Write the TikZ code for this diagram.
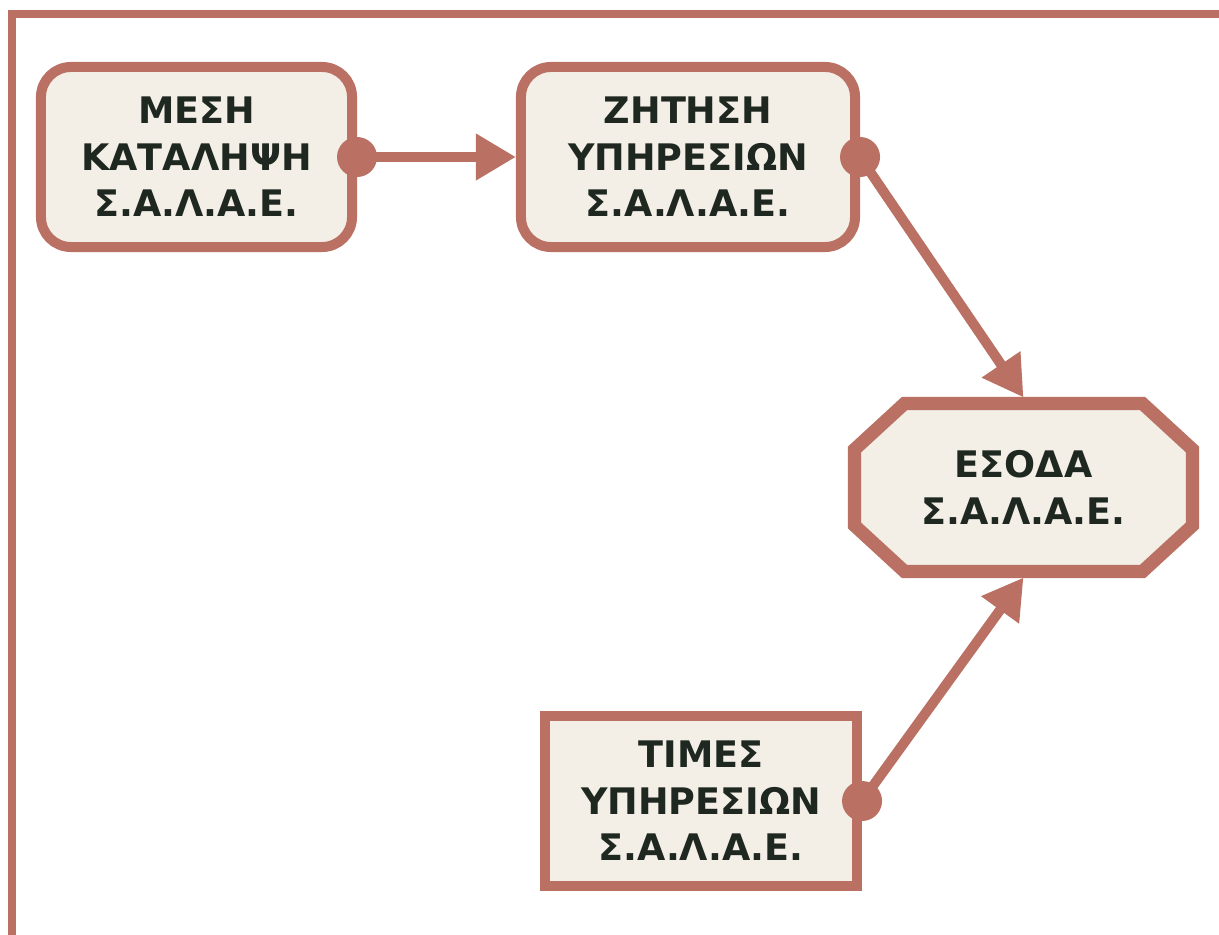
\documentclass[tikz,border=0pt]{standalone}
\usepackage{fontspec}
\setmainfont{DejaVu Sans}
\usetikzlibrary{arrows.meta}
\definecolor{brick}{RGB}{186,112,98}
\definecolor{paper}{RGB}{243,238,230}
\definecolor{ink}{RGB}{30,40,32}
\begin{document}
\begin{tikzpicture}[x=0.025cm, y=-0.025cm,
  box/.style={draw=brick, fill=paper, line width=0.25cm, align=center,
    text=ink, font=\bfseries\fontsize{26}{33}\selectfont,
    minimum width=#1, minimum height=4.5cm},
  link/.style={brick, line width=0.25cm,
    -{Triangle[length=1cm, width=1.1cm]}},
  dot/.style={fill=brick}]
  \useasboundingbox (0,0) rectangle (1219,935);
  % frame
  \draw[brick, line width=0.2cm] (12,935) -- (12,13.5) -- (1219,13.5);
  % boxes
  \node[box=7.775cm, rounded corners=0.75cm] (katalipsi) at (196.5,157)
    {ΜΕΣΗ\\ΚΑΤΑΛΗΨΗ\\Σ.Α.Λ.Α.Ε.};
  \node[box=8.35cm, rounded corners=0.75cm] (zitisi) at (688,157)
    {ΖΗΤΗΣΗ\\ΥΠΗΡΕΣΙΩΝ\\Σ.Α.Λ.Α.Ε.};
  % octagon behind the income node
  \coordinate (c) at (1023.5,487.5);
  \draw[brick, fill=paper, line width=0.33cm]
    ([shift={(-169,-38)}]c) -- ([shift={(-119,-84)}]c)
    -- ([shift={(119,-84)}]c) -- ([shift={(169,-38)}]c)
    -- ([shift={(169,38)}]c) -- ([shift={(119,84)}]c)
    -- ([shift={(-119,84)}]c) -- ([shift={(-169,38)}]c) -- cycle;
  \node[box=8.45cm, minimum height=4.5cm, draw=none, fill=none, outer sep=0pt]
    (esoda) at (c) {ΕΣΟΔΑ\\Σ.Α.Λ.Α.Ε.};
  \node[box=7.8cm, minimum height=4.25cm] (times) at (701,801)
    {ΤΙΜΕΣ\\ΥΠΗΡΕΣΙΩΝ\\Σ.Α.Λ.Α.Ε.};
  % connectors
  \draw[link] (katalipsi.east) -- (zitisi.west);
  \draw[link] (zitisi.east) -- (esoda.north);
  \draw[link] (times.east) -- (esoda.south);
  \fill[dot] (katalipsi.east) circle (0.5cm);
  \fill[dot] (zitisi.east) circle (0.5cm);
  \fill[dot] (times.east) circle (0.5cm);
\end{tikzpicture}
\end{document}
